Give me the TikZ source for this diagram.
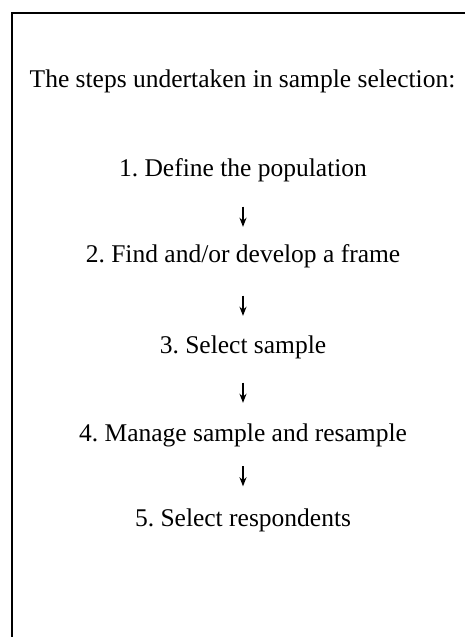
\documentclass[tikz,border=0pt]{standalone}
\usepackage{fontspec}
\setmainfont{Liberation Serif}
\usetikzlibrary{arrows.meta}
\frenchspacing

\begin{document}
\begin{tikzpicture}[x=1pt, y=1pt, font=\fontsize{25.5}{30}\selectfont,
    stepnode/.style={anchor=base, inner sep=0pt, text height=17pt, text depth=5.5pt},
    steparrow/.style={-{Stealth[length=9pt, width=7pt]}, line width=1.4pt}]
    \useasboundingbox (0,0) rectangle (465,-637);
    \draw[line width=1.6pt] (465,-13) -- (12,-13) -- (12,-640);

    \node[stepnode](title) at (242.5, -87) {The steps undertaken in sample selection:};

    \node[stepnode](S1) at (243, -176) {1. Define the population};
    \node[stepnode](S2) at (243, -262) {2. Find and/or develop a frame};
    \node[stepnode](S3) at (243, -353) {3. Select sample};
    \node[stepnode](S4) at (243, -441) {4. Manage sample and resample};
    \node[stepnode](S5) at (243, -526) {5. Select respondents};

    \path[steparrow] (S1) edge[shorten <=25pt, shorten >=18pt] (S2);
    \path[steparrow] (S2) edge[shorten <=28pt, shorten >=20pt] (S3);
    \path[steparrow] (S3) edge[shorten <=24pt, shorten >=21pt] (S4);
    \path[steparrow] (S4) edge[shorten <=19.5pt, shorten >=22.5pt] (S5);
\end{tikzpicture}
\end{document}
